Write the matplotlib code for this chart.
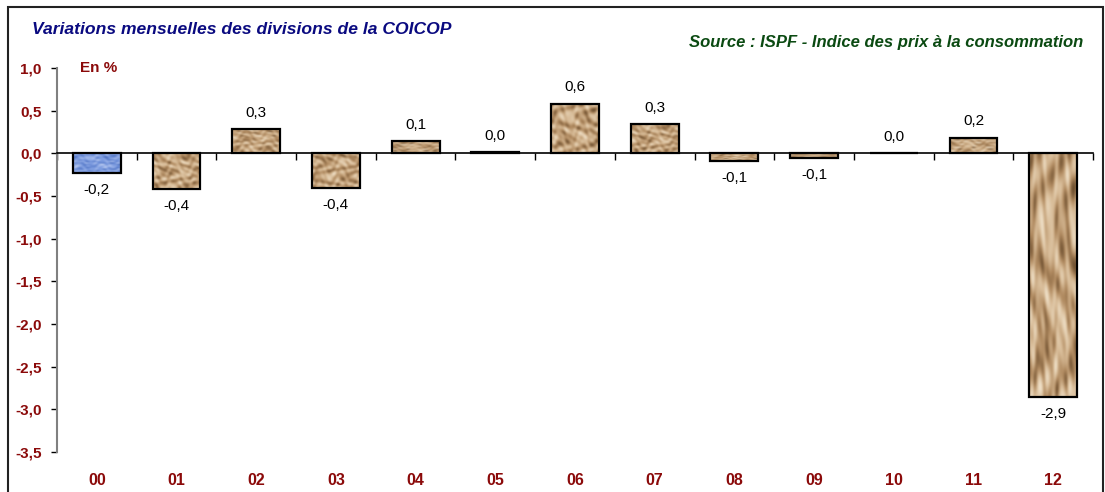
import numpy as np
import matplotlib.pyplot as plt
from matplotlib.colors import LinearSegmentedColormap
from matplotlib.patches import Rectangle

plt.rcParams['font.family'] = ['Liberation Sans', 'DejaVu Sans']

divisions = ["00", "01", "02", "03", "04", "05", "06", "07", "08", "09", "10", "11", "12"]
variations = [-0.23, -0.42, 0.28, -0.41, 0.14, 0.01, 0.58, 0.34, -0.09, -0.06, 0.0, 0.18, -2.86]
y_ticks = [1.0, 0.5, 0.0, -0.5, -1.0, -1.5, -2.0, -2.5, -3.0, -3.5]

RED = "#8b0a0a"
W, H = 1105, 492


def texture(nx, ny, seed):
    # deterministic "crumpled paper" look, purely decorative
    xx, yy = np.meshgrid(np.linspace(0, 1, nx), np.linspace(0, 1, ny))
    z = (np.sin(9 * xx + 5 * np.sin(7 * yy + seed)) +
         0.7 * np.sin(17 * yy + 4 * np.sin(13 * xx + 2 * seed)) +
         0.5 * np.sin(29 * (xx - yy) + 3 * np.sin(5 * yy + seed)) +
         0.3 * np.sin(41 * xx * yy + seed))
    return z


def main():
    fig = plt.figure(figsize=(W / 100, H / 100), dpi=100)
    ax = fig.add_axes([57 / W, 1 - 452 / H, (1093 - 57) / W, (452 - 68) / H])

    x = np.arange(len(divisions))
    bars = ax.bar(x, variations, width=0.6, color="#c8a47c",
                  edgecolor="black", linewidth=1.6, zorder=3)

    tan = LinearSegmentedColormap.from_list("tan", ["#6e5030", "#b08a60", "#d8bc98", "#efe0c8"])
    blue = LinearSegmentedColormap.from_list("blu", ["#3d63b8", "#7c9be0", "#c8d6f5"])
    for i, b in enumerate(bars):
        if b.get_height() == 0:
            continue
        x0, y0 = b.get_x(), b.get_y()
        x1, y1 = x0 + b.get_width(), y0 + b.get_height()
        ny = max(8, int(abs(b.get_height()) * 60))
        img = ax.imshow(texture(30, ny, i), cmap=blue if i == 0 else tan,
                        extent=[x0, x1, min(y0, y1), max(y0, y1)],
                        aspect="auto", zorder=2.5, interpolation="bicubic")
        img.set_clip_path(b)
        b.set_facecolor("none")

    for xi, v in zip(x, variations):
        if v >= 0:
            ax.annotate(f"{v:.1f}".replace(".", ","), (xi, v), xytext=(0, 7),
                        textcoords="offset points", ha="center", va="bottom", fontsize=11)
        else:
            ax.annotate(f"{v:.1f}".replace(".", ","), (xi, v), xytext=(0, -7),
                        textcoords="offset points", ha="center", va="top", fontsize=11)

    ax.set_xlim(-0.5, len(divisions) - 0.5)
    ax.set_ylim(-3.5, 1.0)
    ax.set_yticks(y_ticks)
    ax.set_yticklabels([f"{t:.1f}".replace(".", ",") for t in y_ticks],
                       color=RED, fontweight="bold", fontsize=11)
    ax.tick_params(axis="y", direction="out", length=4, width=1, pad=7, colors="black")
    for lab in ax.get_yticklabels():
        lab.set_color(RED)

    # zero line with ticks between categories
    ax.spines["bottom"].set_position(("data", 0))
    ax.spines["bottom"].set_linewidth(1.2)
    ax.spines["bottom"].set_zorder(4)
    ax.set_xticks([])
    ax.set_xticks(np.arange(-0.5, len(divisions)), minor=True)
    ax.tick_params(axis="x", which="minor", direction="out", length=5, width=1)
    ax.spines["left"].set_color("#808080")
    ax.spines["left"].set_linewidth(1.5)
    ax.spines["top"].set_visible(False)
    ax.spines["right"].set_visible(False)

    sec = ax.secondary_xaxis(0)
    sec.set_xticks(x)
    sec.set_xticklabels(divisions, color=RED, fontweight="bold", fontsize=11.5)
    sec.tick_params(length=0, pad=15)
    sec.spines["bottom"].set_visible(False)

    fig.text(80 / W, 1 - 68 / H, "En %", color=RED, fontweight="bold",
             fontsize=11, va="center", ha="left")
    fig.text(32 / W, 1 - 30 / H, "Variations mensuelles des divisions de la COICOP",
             color="#0a0a80", fontweight="bold", style="italic", fontsize=12.6, va="center")
    fig.text(1083 / W, 1 - 42 / H, "Source : ISPF - Indice des prix à la consommation",
             color="#0b4a12", fontweight="bold", style="italic", fontsize=12, va="center", ha="right")

    fig.patches.append(Rectangle((8 / W, -0.1), (1103 - 8) / W, 1.1 - 7 / H,
                                 transform=fig.transFigure, fill=False,
                                 edgecolor="#222222", linewidth=1.5))

    fig.savefig("out.png", dpi=100)


if __name__ == '__main__':
    main()
